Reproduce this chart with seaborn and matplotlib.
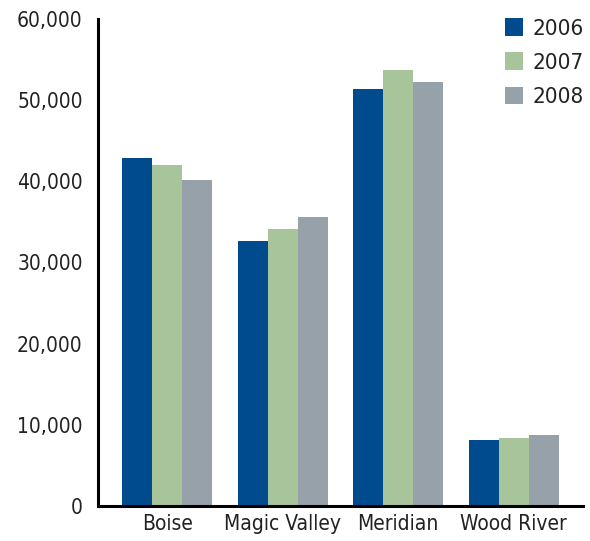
import pandas as pd
import matplotlib.pyplot as plt
import seaborn as sns
from matplotlib.ticker import FuncFormatter

regions = ['Boise', 'Magic Valley', 'Meridian', 'Wood River']
years = ['2006', '2007', '2008']
values_2006 = [42900, 32600, 51400, 8100]
values_2007 = [42000, 34100, 53700, 8400]
values_2008 = [40100, 35600, 52200, 8700]
colors = ['#004B8D', '#A8C49A', '#97A1AA']

df = pd.DataFrame({
    'region': regions * 3,
    'year': [y for y in years for _ in regions],
    'value': values_2006 + values_2007 + values_2008,
})

sns.set_style('white')
plt.rcParams['font.family'] = ['DejaVu Sans']
plt.rcParams['font.stretch'] = 'condensed'

fig = plt.figure(figsize=(5.9, 5.41), dpi=100)
ax = fig.add_axes([0.166, 0.0647, 0.822, 0.9003])

sns.barplot(data=df, x='region', y='value', hue='year', palette=colors,
            width=0.78, gap=0, saturation=1, ax=ax, errorbar=None,
            linewidth=0)

ax.set_ylim(0, 60000)
ax.set_xlim(-0.6, 3.6)
ax.set_yticks(range(0, 60001, 10000))
ax.yaxis.set_major_formatter(FuncFormatter(lambda v, p: f'{int(v):,}'))
ax.set_xlabel('')
ax.set_ylabel('')
ax.tick_params(axis='y', length=0, pad=11, labelsize=15, labelcolor='#222222')
ax.tick_params(axis='x', length=0, pad=6, labelsize=15, labelcolor='#222222')

sns.despine(ax=ax)
for side in ['left', 'bottom']:
    ax.spines[side].set_color('black')
    ax.spines[side].set_linewidth(2.2)

leg = ax.legend(loc='upper left', bbox_to_anchor=(0.82, 1.02), frameon=False,
                fontsize=16, handlelength=0.85, handleheight=0.85,
                handletextpad=0.4, labelspacing=0.62, borderaxespad=0)
for t in leg.get_texts():
    t.set_color('#222222')

fig.savefig('out.png', dpi=100)
